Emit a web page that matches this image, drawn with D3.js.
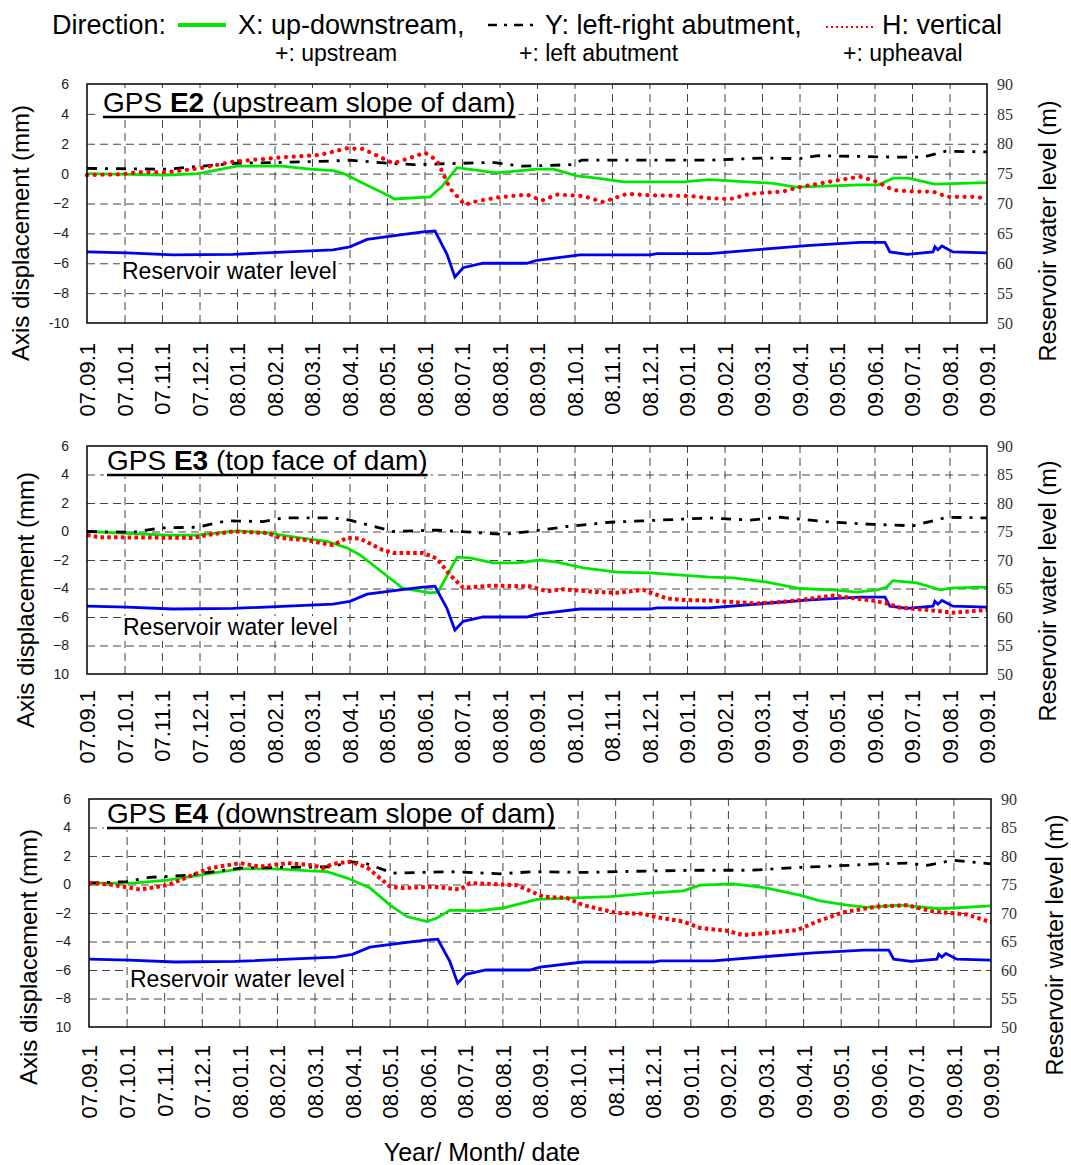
<!DOCTYPE html>
<html>
<head>
<meta charset="utf-8">
<script src="https://cdn.jsdelivr.net/npm/d3@7"></script>
<style>
  body { margin: 0; background: #fff; }
  svg { display: block; font-family: "Liberation Sans", Arial, sans-serif; }
</style>
</head>
<body>
<svg id="chart" width="1071" height="1165"></svg>
<script>
// GPS displacement of three points on the dam, plus reservoir water level.
// x values are months counted from 2007-09-01.

const monthLabels = ["07.09.1","07.10.1","07.11.1","07.12.1","08.01.1","08.02.1","08.03.1",
  "08.04.1","08.05.1","08.06.1","08.07.1","08.08.1","08.09.1","08.10.1","08.11.1","08.12.1",
  "09.01.1","09.02.1","09.03.1","09.04.1","09.05.1","09.06.1","09.07.1","09.08.1","09.09.1"];

const dispTicks = [6, 4, 2, 0, -2, -4, -6, -8, -10];
const levelTicks = [90, 85, 80, 75, 70, 65, 60, 55, 50];

// reservoir water level (m), shared by all panels
const waterLevel = [[0,61.9],[1.07,61.75],[2.29,61.4],[3.89,61.5],[6.56,62.25],[7.01,62.75],
  [7.47,64],[8.35,64.75],[8.96,65.25],[9.28,65.4],[9.6,61.5],[9.81,57.7],[10.03,59.25],
  [10.56,60],[11.73,60],[12.0,60.5],[13.15,61.4],[15.01,61.4],[15.2,61.6],[16.61,61.6],
  [18.29,62.5],[19.28,63],[20.61,63.5],[21.28,63.5],[21.41,61.9],[21.87,61.5],[22.56,61.9],
  [22.61,62.75],[22.69,62.25],[22.8,62.9],[23.09,61.9],[24,61.75]];

// E2
const e2X = [[0,0],[2.13,-0.1],[2.96,0],[4.0,0.5],[5.2,0.5],[5.95,0.3],[6.56,0.2],[6.85,0],
  [7.4,-0.7],[7.9,-1.3],[8.2,-1.7],[9.15,-1.55],[9.45,-0.9],[9.87,0.4],[10.93,0.05],[12.0,0.3],
  [12.43,0.3],[13.07,-0.15],[13.6,-0.3],[14.3,-0.55],[15.9,-0.55],[16.6,-0.4],[18.3,-0.65],
  [18.9,-0.9],[20.6,-0.75],[21.1,-0.75],[21.5,-0.3],[21.9,-0.3],[22.6,-0.7],[24,-0.6]];
const e2Y = [[0,0.35],[2.13,0.3],[4,0.7],[5.2,0.75],[6.56,0.85],[7.0,0.9],[8.0,0.7],[8.7,0.6],
  [9.4,0.65],[10.8,0.75],[11.6,0.5],[12.9,0.6],[13.2,0.9],[16.6,0.9],[18.1,1.05],[19.0,1.0],
  [19.5,1.2],[21.7,1.1],[22.3,1.1],[22.9,1.5],[24,1.45]];
const e2H = [[0,-0.1],[0.88,-0.05],[1.41,0.1],[2.13,0.1],[3.0,0.35],[3.89,0.8],[5.23,1.1],
  [6.21,1.25],[6.93,1.7],[7.36,1.65],[8.16,0.7],[8.43,0.9],[9.01,1.4],[9.33,0.9],[9.68,-1.0],
  [10.08,-2.1],[10.29,-1.9],[10.93,-1.6],[11.73,-1.4],[12.13,-1.8],[12.53,-1.4],[13.23,-1.5],
  [13.76,-1.9],[14.4,-1.35],[15.0,-1.45],[16.08,-1.5],[16.61,-1.65],[17.15,-1.7],[17.68,-1.35],
  [18.56,-1.2],[19.01,-0.9],[19.89,-0.5],[20.61,-0.2],[20.96,-0.45],[21.23,-0.75],[21.49,-1.1],
  [22.03,-1.2],[22.56,-1.2],[22.93,-1.55],[23.63,-1.55],[24,-1.65]];

// E3
const e3X = [[0,0],[2.13,-0.25],[2.93,-0.25],[4,0.05],[4.8,-0.1],[5.68,-0.45],[6.4,-0.7],
  [6.93,-1.15],[7.28,-1.65],[8.43,-4.0],[9.15,-4.3],[9.36,-4.25],[9.87,-1.8],[10.21,-1.85],
  [10.83,-2.2],[11.47,-2.2],[12.08,-2.0],[12.53,-2.15],[13.23,-2.55],[14.13,-2.85],[15.01,-2.9],
  [16.61,-3.2],[17.23,-3.25],[18.13,-3.55],[19.01,-4.0],[19.89,-4.1],[20.53,-4.25],[21.07,-4.1],
  [21.33,-3.9],[21.49,-3.45],[22.13,-3.6],[22.75,-4.1],[23.09,-3.95],[24,-3.9]];
const e3Y = [[0,0],[1.23,-0.05],[1.95,0.25],[2.93,0.3],[3.73,0.75],[4.69,0.7],[5.23,0.95],
  [6.56,0.95],[7.01,0.8],[8.16,0],[9.33,0.1],[9.95,0],[11.09,-0.2],[11.81,0],[12.8,0.35],
  [13.95,0.65],[16.61,0.95],[17.68,0.8],[18.48,1.0],[19.89,0.65],[20.96,0.5],[22.03,0.4],
  [22.93,1.0],[24,0.95]];
const e3H = [[0,-0.25],[0.35,-0.4],[2.83,-0.45],[3.2,-0.25],[3.89,0],[4.8,-0.1],[5.15,-0.45],
  [5.87,-0.6],[6.21,-0.8],[6.56,-0.95],[6.93,-0.45],[7.28,-0.5],[7.89,-1.3],[8.16,-1.5],
  [8.96,-1.5],[9.33,-1.9],[9.68,-3.05],[10.03,-3.95],[10.75,-3.8],[11.81,-3.85],[12.27,-4.2],
  [12.69,-4.05],[13.6,-4.25],[14.13,-4.3],[14.83,-4.1],[15.47,-4.7],[15.89,-4.8],[16.61,-4.85],
  [17.87,-5.05],[18.75,-4.9],[19.89,-4.5],[20.96,-4.85],[21.33,-5.05],[21.68,-5.35],[22.4,-5.5],
  [23.09,-5.7],[24,-5.5]];

// E4
const e4X = [[0,0.1],[1.17,0.1],[2.08,0.3],[2.95,0.65],[4.02,1.1],[5.0,1.1],[5.88,0.95],
  [6.33,0.9],[6.87,0.45],[7.48,-0.25],[8.01,-1.45],[8.46,-2.25],[8.99,-2.6],[9.26,-2.35],
  [9.61,-1.8],[10.32,-1.85],[11.02,-1.65],[11.92,-1.05],[12.72,-0.95],[13.86,-0.85],[14.93,-0.6],
  [15.81,-0.45],[16.26,-0.05],[17.14,0.05],[18.04,-0.25],[18.91,-0.75],[19.45,-1.15],
  [20.17,-1.45],[20.7,-1.6],[21.58,-1.45],[22.03,-1.55],[22.64,-1.7],[24,-1.5]];
const e4Y = [[0,0.1],[1.01,0.2],[1.62,0.5],[2.61,0.65],[4.02,1.15],[5.27,1.2],[6.49,1.25],
  [6.95,1.6],[7.4,1.45],[8.09,0.8],[9.61,0.9],[10.94,0.75],[11.81,0.9],[13.15,0.85],[14.93,0.95],
  [16.26,1.0],[17.59,1.0],[18.91,1.2],[20.25,1.35],[20.97,1.45],[21.77,1.5],[22.3,1.35],
  [22.99,1.7],[24,1.45]];
const e4H = [[0,0.1],[0.56,0],[1.01,-0.2],[1.36,-0.35],[2.08,-0.05],[2.61,0.5],[3.22,1.15],
  [4.02,1.5],[4.55,1.25],[5.27,1.5],[5.96,1.35],[6.23,1.15],[6.49,1.45],[6.95,1.6],[7.4,1.2],
  [8.01,-0.15],[8.36,-0.25],[9.15,-0.15],[9.87,-0.35],[10.14,0.1],[11.39,-0.05],[12.08,-0.85],
  [12.72,-0.95],[13.15,-1.45],[14.05,-2.0],[14.74,-2.05],[15.11,-2.3],[15.81,-2.6],[16.26,-3.05],
  [16.98,-3.25],[17.4,-3.55],[18.04,-3.4],[18.84,-3.2],[19.37,-2.6],[20.06,-1.95],[20.97,-1.55],
  [21.77,-1.45],[22.46,-1.9],[23.36,-2.1],[24,-2.65]];

const GREEN = "#00e600", BLUE = "#0000f0", RED = "#ff0000";

const panels = [
  { id: "E2", rest: " (upstream slope of dam)", X: e2X, Y: e2Y, H: e2H, minLabel: "-10",
    box: { l: 87, r: 987, t: 84, b: 323 }, titleX: 103, titleY: 112, wlX: 122, wlY: 279,
    tickGap: 20, leftLabel: [20, 233], rightLabel: [1048, 231], roundDots: true },
  { id: "E3", rest: " (top face of dam)", X: e3X, Y: e3Y, H: e3H, minLabel: "10",
    box: { l: 87, r: 987, t: 446, b: 674 }, titleX: 107, titleY: 470, wlX: 123, wlY: 635,
    tickGap: 16, leftLabel: [25, 600], rightLabel: [1048, 591], roundDots: false },
  { id: "E4", rest: " (downstream slope of dam)", X: e4X, Y: e4Y, H: e4H, minLabel: "10",
    box: { l: 89, r: 991, t: 799, b: 1027 }, titleX: 107, titleY: 823, wlX: 130, wlY: 987,
    tickGap: 18, leftLabel: [28, 957], rightLabel: [1055, 945], roundDots: false }
];

const svg = d3.select("#chart");

// ---- legend across the top ----
const lg = svg.append("g");
const legendText = (x, y, size, s) => lg.append("text").attr("x", x).attr("y", y)
  .attr("font-size", size).attr("fill", "#000").text(s);
legendText(52, 34, 27, "Direction:");
lg.append("line").attr("x1", 178).attr("x2", 226).attr("y1", 25).attr("y2", 25)
  .attr("stroke", GREEN).attr("stroke-width", 4);
legendText(238, 34, 27, "X: up-downstream,");
lg.append("line").attr("x1", 488).attr("x2", 534).attr("y1", 25).attr("y2", 25)
  .attr("stroke", "#000").attr("stroke-width", 2.5).attr("stroke-dasharray", "9,7,3,7");
legendText(545, 34, 27, "Y: left-right abutment,");
lg.append("line").attr("x1", 826).attr("x2", 876).attr("y1", 27).attr("y2", 27)
  .attr("stroke", RED).attr("stroke-width", 2).attr("stroke-dasharray", "2,3");
legendText(882, 34, 27, "H: vertical");
legendText(275, 61, 23, "+: upstream");
legendText(519, 61, 23, "+: left abutment");
legendText(843, 61, 23, "+: upheaval");

// ---- panels ----
panels.forEach(p => {
  const { l, r, t, b } = p.box;
  const x = d3.scaleLinear().domain([0, 24]).range([l, r]);
  const yL = d3.scaleLinear().domain([-10, 6]).range([b, t]);
  const yR = d3.scaleLinear().domain([50, 90]).range([b, t]);
  const g = svg.append("g");

  // dashed grid
  g.append("g").attr("transform", `translate(0,${b})`)
    .call(d3.axisBottom(x).tickValues(d3.range(1, 24)).tickSize(-(b - t)).tickFormat(""))
    .call(s => s.select(".domain").remove())
    .selectAll("line").attr("stroke", "#444").attr("stroke-dasharray", "8,5");
  g.append("g").attr("transform", `translate(${l},0)`)
    .call(d3.axisLeft(yL).tickValues([4, 2, 0, -2, -4, -6, -8]).tickSize(-(r - l)).tickFormat(""))
    .call(s => s.select(".domain").remove())
    .selectAll("line").attr("stroke", "#444").attr("stroke-dasharray", "8,5");

  // title with white backing and underline
  const titleBg = g.append("rect").attr("fill", "#fff");
  const title = g.append("text").attr("x", p.titleX).attr("y", p.titleY)
    .attr("font-size", 28).attr("fill", "#000");
  title.append("tspan").text("GPS ");
  title.append("tspan").attr("font-weight", "bold").text(p.id);
  title.append("tspan").text(p.rest);
  const tw = title.node().getComputedTextLength();
  titleBg.attr("x", p.titleX - 3).attr("y", p.titleY - 24)
    .attr("width", tw + 6).attr("height", 31);
  g.append("line").attr("x1", p.titleX).attr("x2", p.titleX + tw)
    .attr("y1", p.titleY + 5).attr("y2", p.titleY + 5)
    .attr("stroke", "#000").attr("stroke-width", 2.5);

  // reservoir label with white backing
  const wlBg = g.append("rect").attr("fill", "#fff");
  const wl = g.append("text").attr("x", p.wlX).attr("y", p.wlY)
    .attr("font-size", 23).attr("fill", "#000").text("Reservoir water level");
  const ww = wl.node().getComputedTextLength();
  wlBg.attr("x", p.wlX - 2).attr("y", p.wlY - 19).attr("width", ww + 4).attr("height", 25);

  // series
  const line = yScale => d3.line().x(d => x(d[0])).y(d => yScale(d[1]));
  g.append("path").datum(p.X).attr("d", line(yL)).attr("fill", "none")
    .attr("stroke", GREEN).attr("stroke-width", 2.8);
  g.append("path").datum(waterLevel).attr("d", line(yR)).attr("fill", "none")
    .attr("stroke", BLUE).attr("stroke-width", 2.8);
  g.append("path").datum(p.Y).attr("d", line(yL)).attr("fill", "none")
    .attr("stroke", "#000").attr("stroke-width", 2.8).attr("stroke-dasharray", "10,8,3,8");
  const red = g.append("path").datum(p.H).attr("d", line(yL)).attr("fill", "none")
    .attr("stroke", RED);
  if (p.roundDots) {
    red.attr("stroke-width", 4.2).attr("stroke-linecap", "round").attr("stroke-dasharray", "0.1,7.6");
  } else {
    red.attr("stroke-width", 4).attr("stroke-dasharray", "3.6,3.2");
  }

  // frame
  g.append("rect").attr("x", l).attr("y", t).attr("width", r - l).attr("height", b - t)
    .attr("fill", "none").attr("stroke", "#000").attr("stroke-width", 1.5);

  // left axis labels
  g.append("g").attr("transform", `translate(${l},0)`)
    .call(d3.axisLeft(yL).tickValues(dispTicks).tickSize(0).tickPadding(18)
      .tickFormat(d => d === -10 ? p.minLabel : (d < 0 ? "\u2212" + (-d) : String(d))))
    .call(s => s.select(".domain").remove())
    .selectAll("text").style("font-family", "'Liberation Sans Narrow', 'Liberation Sans', Arial")
    .attr("font-size", 14).attr("fill", "#222");

  // right axis labels
  g.append("g").attr("transform", `translate(${r},0)`)
    .call(d3.axisRight(yR).tickValues(levelTicks).tickSize(0).tickPadding(10))
    .call(s => s.select(".domain").remove())
    .selectAll("text").style("font-family", "'Liberation Serif', 'Times New Roman', serif")
    .attr("font-size", 16).attr("fill", "#333");

  // month labels, rotated
  g.append("g").attr("transform", `translate(0,${b})`)
    .call(d3.axisBottom(x).tickValues(d3.range(0, 25)).tickSize(0).tickFormat((d, i) => monthLabels[i]))
    .call(s => s.select(".domain").remove())
    .selectAll("text")
    .attr("transform", "rotate(-90)")
    .attr("x", -p.tickGap).attr("y", 0).attr("dy", "0.36em")
    .attr("text-anchor", "end").attr("font-size", 22).attr("fill", "#000");

  // axis titles
  g.append("text").attr("transform", `translate(${p.leftLabel[0]},${p.leftLabel[1]}) rotate(-90)`)
    .attr("text-anchor", "middle").attr("dy", "0.36em").attr("font-size", 24).attr("fill", "#000")
    .text("Axis displacement (mm)");
  g.append("text").attr("transform", `translate(${p.rightLabel[0]},${p.rightLabel[1]}) rotate(-90)`)
    .attr("text-anchor", "middle").attr("dy", "0.36em").attr("font-size", 23.5).attr("fill", "#000")
    .text("Reservoir water level (m)");
});

svg.append("text").attr("x", 482).attr("y", 1161).attr("text-anchor", "middle")
  .attr("font-size", 25).attr("fill", "#000").text("Year/ Month/ date");
</script>
</body>
</html>
